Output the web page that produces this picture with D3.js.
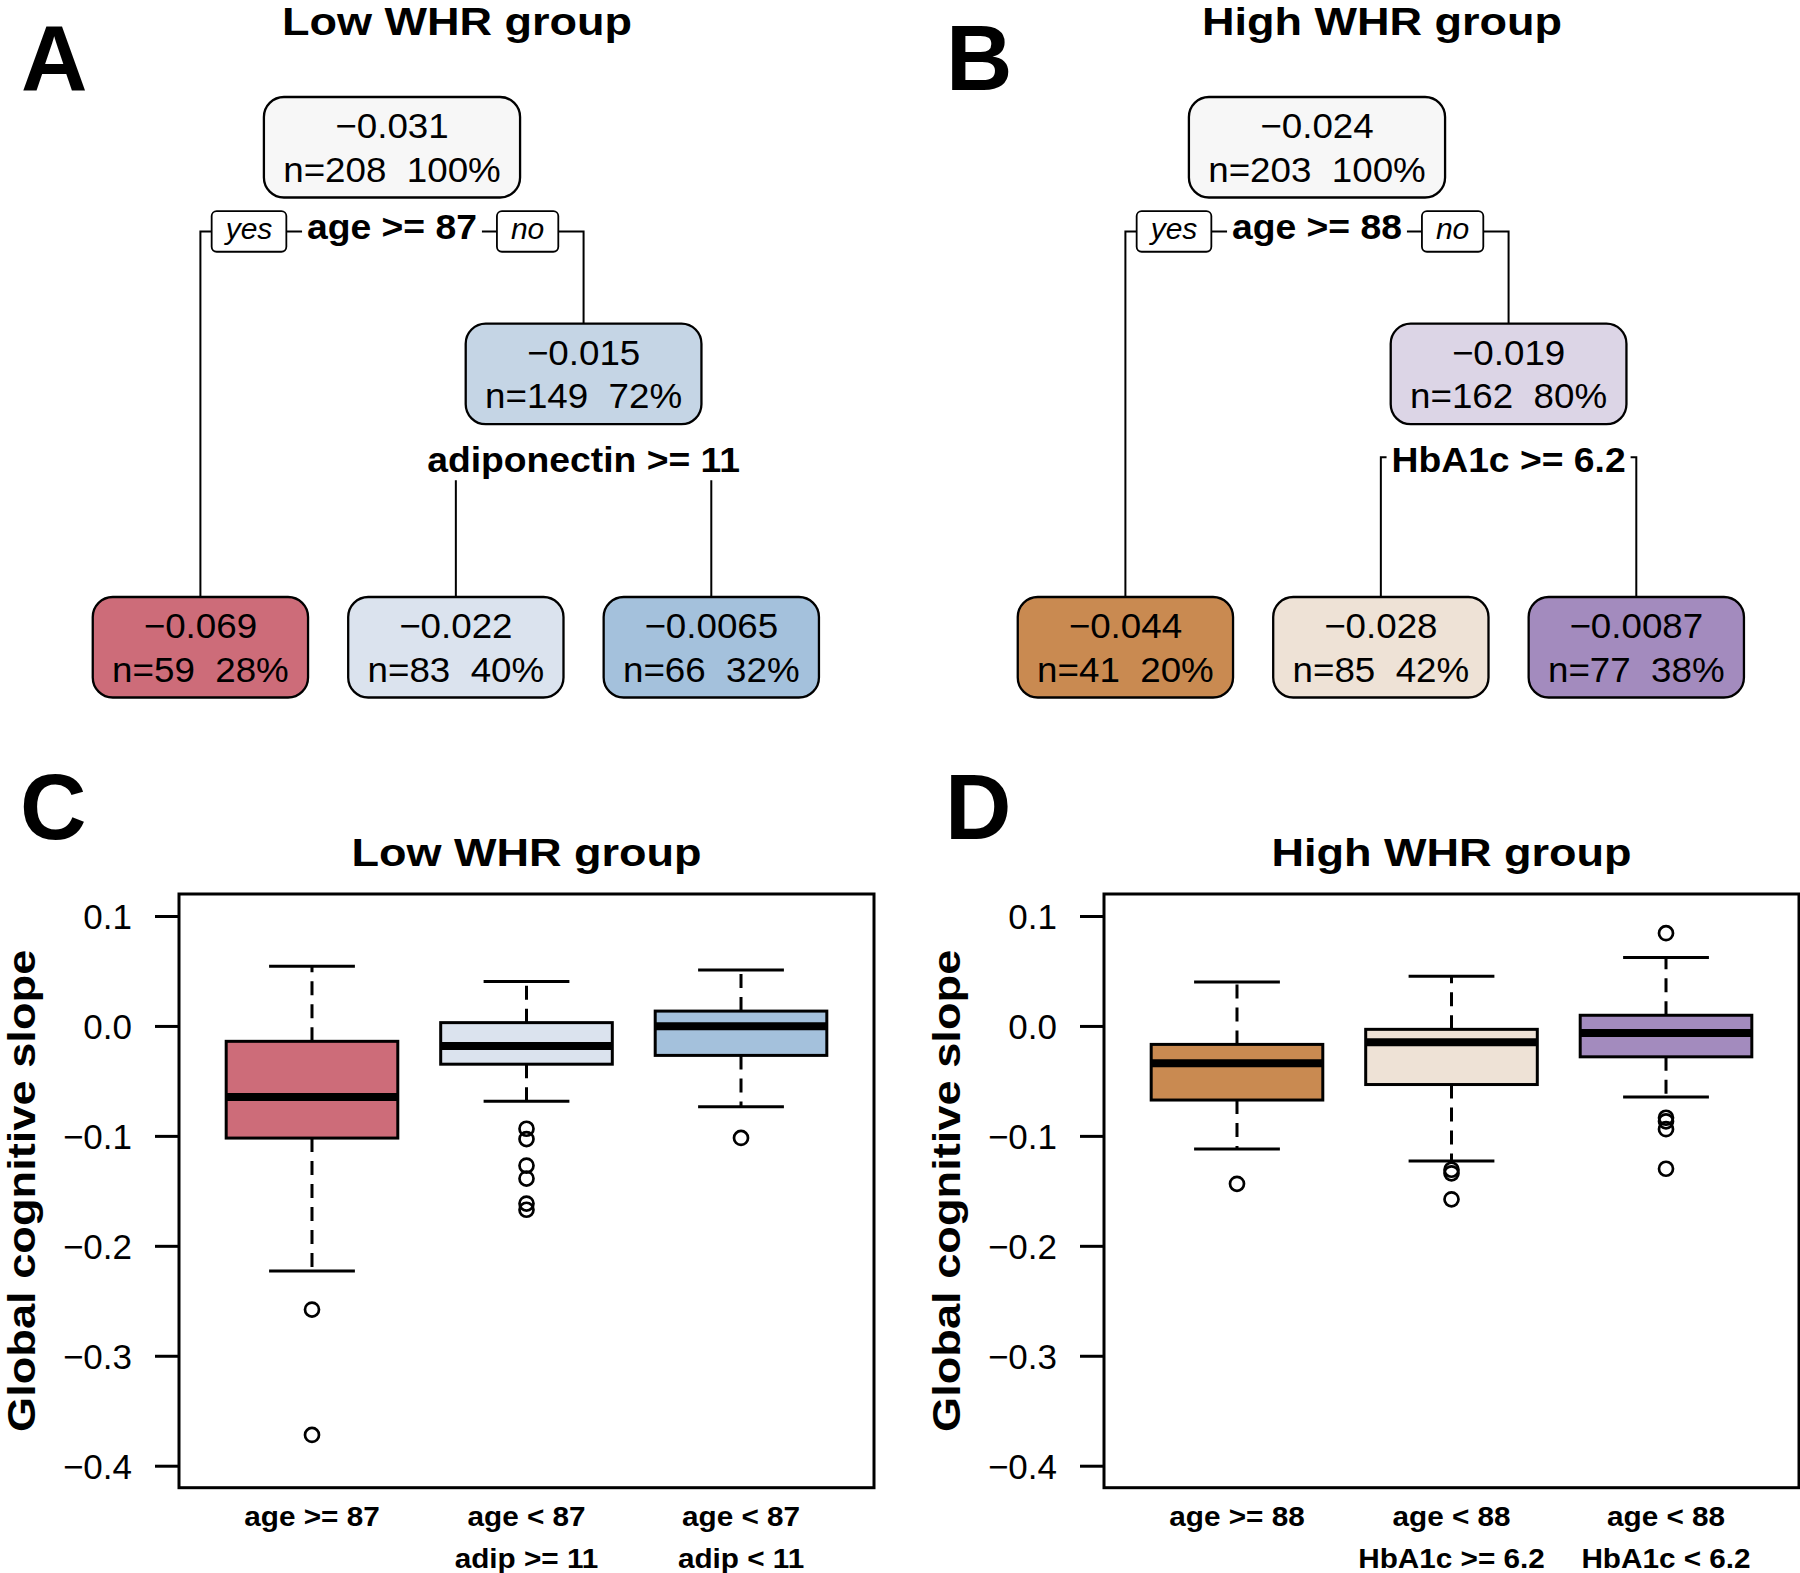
<!DOCTYPE html>
<html>
<head>
<meta charset="utf-8">
<script src="https://cdn.jsdelivr.net/npm/d3@7"></script>
<style>
  body { margin: 0; background: #fff; }
  svg { display: block; background: #fff; }
  text { font-family: "Liberation Sans", Arial, Helvetica, sans-serif; fill: #000; }
</style>
</head>
<body>
<svg id="chart" width="1800" height="1573"></svg>
<script>
// ---------------- DATA ----------------
const panelTitles = ["Low WHR group", "High WHR group"];
const treeLetters = ["A", "B"];
const boxLetters = ["C", "D"];

// regression trees (first child = "yes" branch)
const treeIds = ["root", "yesLeaf", "noNode", "noYesLeaf", "noNoLeaf"];
const treeParents = [null, "root", "root", "noNode", "noNode"];

const lowTreeValues = [-0.031, -0.069, -0.015, -0.022, -0.0065];
const lowTreeN = [208, 59, 149, 83, 66];
const lowTreePct = [100, 28, 72, 40, 32];
const lowTreeSplits = ["age >= 87", null, "adiponectin >= 11", null, null];
const lowTreeFills = ["#F7F7F7", "#CD6C79", "#C5D5E5", "#DBE3EE", "#A4C1DC"];

const highTreeValues = [-0.024, -0.044, -0.019, -0.028, -0.0087];
const highTreeN = [203, 41, 162, 85, 77];
const highTreePct = [100, 20, 80, 42, 38];
const highTreeSplits = ["age >= 88", null, "HbA1c >= 6.2", null, null];
const highTreeFills = ["#F7F7F7", "#C98A51", "#DCD5E6", "#EEE2D6", "#A38BBE"];

const branchLabels = ["yes", "no"];

// box plots: [lower whisker, Q1, median, Q3, upper whisker]
const yAxisTitle = "Global cognitive slope";
const yTicks = [0.1, 0.0, -0.1, -0.2, -0.3, -0.4];
const yLimits = [-0.4, 0.1];

const lowGroupLabels = [["age >= 87"], ["age < 87", "adip >= 11"], ["age < 87", "adip < 11"]];
const lowBoxStats = [
  [-0.223, -0.102, -0.0646, -0.014, 0.0542],
  [-0.0684, -0.0348, -0.0183, 0.003, 0.0404],
  [-0.0736, -0.0268, -0.0003, 0.0135, 0.0508]
];
const lowOutliers = [
  [-0.258, -0.372],
  [-0.0935, -0.1029, -0.127, -0.1388, -0.1616, -0.1672],
  [-0.1019]
];
const lowBoxFills = ["#CD6C79", "#DBE3EE", "#A4C1DC"];

const highGroupLabels = [["age >= 88"], ["age < 88", "HbA1c >= 6.2"], ["age < 88", "HbA1c < 6.2"]];
const highBoxStats = [
  [-0.1119, -0.0674, -0.0339, -0.0168, 0.0399],
  [-0.1228, -0.0533, -0.0149, -0.0031, 0.0451],
  [-0.0646, -0.0281, -0.0064, 0.0097, 0.0622]
];
const highOutliers = [
  [-0.1436],
  [-0.1308, -0.1341, -0.1577],
  [0.0844, -0.0835, -0.0868, -0.0939, -0.1299]
];
const highBoxFills = ["#C98A51", "#EEE2D6", "#A38BBE"];

// ---------------- LAYOUT ----------------
const PANEL_DX = 925;
const svg = d3.select("#chart");

function addText(g, x, y, str, o) {
  o = o || {};
  const sx = o.sx || 1;
  return g.append("text")
    .attr("transform", `translate(${x},${y})` + (o.rotate ? ` rotate(${o.rotate})` : "") + ` scale(${sx},1)`)
    .attr("text-anchor", o.anchor || "middle")
    .attr("font-size", o.size)
    .attr("font-weight", o.weight || "normal")
    .attr("font-style", o.style || "normal")
    .text(str);
}

const fmtVal = d3.format(".2r");

function drawTree(dx, values, ns, pcts, splits, fills, title, letter) {
  const g = svg.append("g").attr("transform", `translate(${dx},0)`);
  const table = treeIds.map((id, i) => ({
    id, parent: treeParents[i], value: values[i], n: ns[i], pct: pcts[i], split: splits[i], fill: fills[i]
  }));
  const root = d3.stratify().id(d => d.id).parentId(d => d.parent)(table);
  const leaves = root.leaves();
  const leafX = d3.scaleLinear().domain([0, leaves.length - 1]).range([200.4, 711.3]);
  leaves.forEach((l, i) => { l.x = leafX(i); });
  root.eachAfter(n => { if (n.children) n.x = d3.mean(n.children, c => c.x); });
  const levelTop = d3.scaleLinear().domain([0, 1]).range([97, 323.7]);
  const leafTop = 597, nodeH = 100.5;
  root.each(n => { n.top = n.children ? levelTop(n.depth) : leafTop; });
  const splitLineY = [231.4, 457.3];
  const splitBase = [239.3, 471.5];

  // title + letter
  addText(g, 457, 35, title, { size: 38, weight: "bold", sx: 1.185 });
  addText(g, 21, 90, letter, { size: 92, weight: "bold", anchor: "start" });

  // edges
  root.each(n => {
    if (!n.children) return;
    const [a, b] = n.children;
    const ly = splitLineY[n.depth];
    g.append("path")
      .attr("d", `M${a.x},${a.top}V${ly}H${b.x}V${b.top}`)
      .attr("fill", "none").attr("stroke", "#000").attr("stroke-width", 2);
  });

  // split labels
  root.each(n => {
    if (!n.children) return;
    const fs = 35, sx = 1.065;
    const by = splitBase[n.depth];
    const lg = g.append("g");
    const t = addText(lg, n.x, by, n.data.split, { size: fs, weight: "bold", sx });
    const w = t.node().getComputedTextLength() * sx;
    lg.insert("rect", "text")
      .attr("x", n.x - w / 2 - 5).attr("width", w + 10)
      .attr("y", by - 0.8 * fs).attr("height", 1.05 * fs)
      .attr("fill", "#fff");
    if (n.depth === 0) {
      const ly = splitLineY[0];
      const sides = [
        { txt: branchLabels[0], edge: n.x - w / 2 - 20.7, dir: -1 },
        { txt: branchLabels[1], edge: n.x + w / 2 + 20, dir: 1 }
      ];
      sides.forEach(s => {
        const bg = g.append("g");
        const tt = addText(bg, 0, by, s.txt, { size: 30, style: "italic" });
        const tw = tt.node().getComputedTextLength();
        const bw = tw + 28;
        const bx = s.dir < 0 ? s.edge - bw : s.edge;
        tt.attr("transform", `translate(${bx + bw / 2},${by})`);
        bg.insert("rect", "text")
          .attr("x", bx).attr("y", ly - 20.35).attr("width", bw).attr("height", 40.7)
          .attr("rx", 5).attr("fill", "#fff").attr("stroke", "#000").attr("stroke-width", 1.8);
      });
    }
  });

  // node boxes
  root.each(n => {
    const ng = g.append("g");
    const sx = 1.05;
    const t1 = addText(ng, n.x, n.top + 41.3, fmtVal(n.data.value), { size: 35, sx });
    const t2 = addText(ng, n.x, n.top + 84.7, `n=${n.data.n}\u00a0\u00a0${n.data.pct}%`, { size: 35, sx });
    const w = Math.max(t1.node().getComputedTextLength(), t2.node().getComputedTextLength()) * sx + 38.6;
    ng.insert("rect", "text")
      .attr("x", n.x - w / 2).attr("y", n.top).attr("width", w).attr("height", nodeH)
      .attr("rx", 20).attr("ry", 20)
      .attr("fill", n.data.fill).attr("stroke", "#000").attr("stroke-width", 2.3);
  });
}

function drawBoxPanel(dx, stats, outliers, fills, groupLabels, title, letter) {
  const g = svg.append("g").attr("transform", `translate(${dx},0)`);
  const nG = stats.length;
  const xpad = 0.04 * nG;
  const x = d3.scaleLinear().domain([0.5 - xpad, nG + 0.5 + xpad]).range([179, 874]);
  const ypad = 0.04 * (yLimits[1] - yLimits[0]);
  const y = d3.scaleLinear().domain([yLimits[0] - ypad, yLimits[1] + ypad]).range([1487.7, 894]);
  const [x0, x1] = x.range();
  const [yb, yt] = y.range();

  addText(g, 20, 839, letter, { size: 92, weight: "bold", anchor: "start" });
  addText(g, (x0 + x1) / 2, 866.3, title, { size: 39, weight: "bold", sx: 1.155 });
  addText(g, 35, (yb + yt) / 2, yAxisTitle, { size: 38, weight: "bold", sx: 1.19, rotate: -90 });

  // y axis
  const ax = g.append("g").attr("transform", `translate(${x0},0)`)
    .call(d3.axisLeft(y).tickValues(yTicks).tickFormat(d3.format(".1f")).tickSize(24).tickPadding(23));
  ax.attr("font-size", 35).attr("font-family", null);
  ax.select(".domain").remove();
  ax.selectAll(".tick line").attr("stroke", "#000").attr("stroke-width", 3);
  ax.selectAll(".tick text").attr("dy", "0.36em").attr("fill", "#000");

  const bw = 0.8, cw = 0.4;
  stats.forEach((s, i) => {
    const c = i + 1;
    const [lo, q1, med, q3, hi] = s;
    const cx = x(c);
    [[q3, hi], [q1, lo]].forEach(([from, to]) => {
      g.append("path").attr("d", `M${cx},${y(from)}V${y(to)}`)
        .attr("stroke", "#000").attr("stroke-width", 3).attr("stroke-dasharray", "14,9").attr("fill", "none");
      g.append("line").attr("x1", x(c - cw / 2)).attr("x2", x(c + cw / 2))
        .attr("y1", y(to)).attr("y2", y(to)).attr("stroke", "#000").attr("stroke-width", 3);
    });
    g.append("rect").attr("x", x(c - bw / 2)).attr("width", x(c + bw / 2) - x(c - bw / 2))
      .attr("y", y(q3)).attr("height", y(q1) - y(q3))
      .attr("fill", fills[i]).attr("stroke", "#000").attr("stroke-width", 3);
    g.append("line").attr("x1", x(c - bw / 2)).attr("x2", x(c + bw / 2))
      .attr("y1", y(med)).attr("y2", y(med)).attr("stroke", "#000").attr("stroke-width", 8);
    g.selectAll(null).data(outliers[i]).enter().append("circle")
      .attr("cx", cx).attr("cy", d => y(d)).attr("r", 7)
      .attr("fill", "none").attr("stroke", "#000").attr("stroke-width", 2.7);
    groupLabels[i].forEach((line, k) => {
      addText(g, cx, 1526.3 + k * 41.7, line, { size: 27, weight: "bold", sx: 1.1 });
    });
  });

  g.append("rect").attr("x", x0).attr("y", yt).attr("width", x1 - x0).attr("height", yb - yt)
    .attr("fill", "none").attr("stroke", "#000").attr("stroke-width", 3);
}

drawTree(0, lowTreeValues, lowTreeN, lowTreePct, lowTreeSplits, lowTreeFills, panelTitles[0], treeLetters[0]);
drawTree(PANEL_DX, highTreeValues, highTreeN, highTreePct, highTreeSplits, highTreeFills, panelTitles[1], treeLetters[1]);
drawBoxPanel(0, lowBoxStats, lowOutliers, lowBoxFills, lowGroupLabels, panelTitles[0], boxLetters[0]);
drawBoxPanel(PANEL_DX, highBoxStats, highOutliers, highBoxFills, highGroupLabels, panelTitles[1], boxLetters[1]);
</script>
</body>
</html>
